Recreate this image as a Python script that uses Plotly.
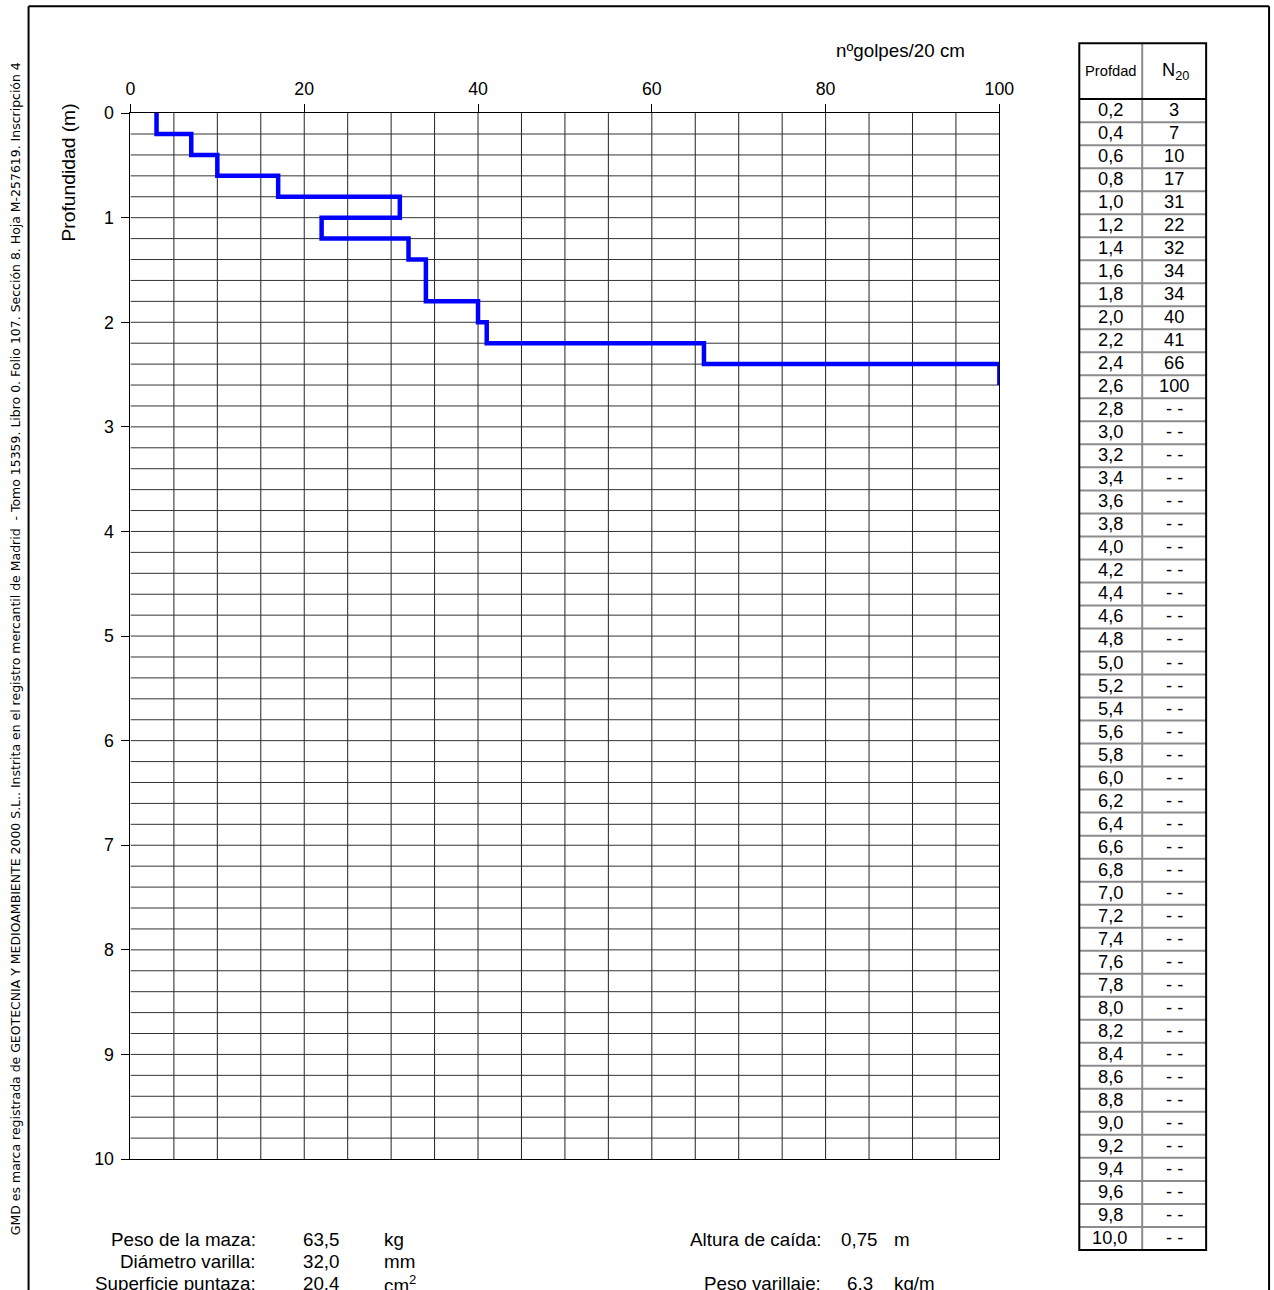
import plotly.graph_objects as go

# ---- data ----
depths = [0.2, 0.4, 0.6, 0.8, 1.0, 1.2, 1.4, 1.6, 1.8, 2.0, 2.2, 2.4, 2.6]
blows = [3, 7, 10, 17, 31, 22, 32, 34, 34, 40, 41, 66, 100]
table_depths = [round(0.2 * i, 1) for i in range(1, 51)]
x_ticks = [0, 20, 40, 60, 80, 100]
y_ticks = [0, 1, 2, 3, 4, 5, 6, 7, 8, 9, 10]

W, H = 1274, 1290
FONT = "Liberation Sans, Arial, sans-serif"

# the photographed page comes out slightly shrunk; compensate
S, AX, AY = 0.9855, 4.4, 8.8

def px(x):
    return ((x - AX) / S) / W

def py(y):
    return 1 - ((y - AY) / S) / H

def fs(size):
    return size / S

def note(x, y, text, size=17.5, xanchor="center", **kw):
    return dict(xref="paper", yref="paper", x=px(x), y=py(y), text=text,
                showarrow=False, xanchor=xanchor, yanchor="middle",
                borderpad=0, font=dict(size=fs(size), family=kw.pop("family", FONT)), **kw)

# step line built from data
xs, ys = [], []
for d, n in zip(depths, blows):
    xs += [n, n]
    ys += [round(d - 0.2, 1), d]

fig = go.Figure()
fig.add_trace(go.Scatter(x=xs, y=ys, mode="lines",
                         line=dict(color="#0000FF", width=4.5),
                         hoverinfo="skip", showlegend=False))

fig.update_layout(
    width=W, height=H,
    margin=dict(l=0, r=0, t=0, b=0),
    paper_bgcolor="white", plot_bgcolor="white",
    font=dict(family=FONT, size=17, color="black"),
    xaxis=dict(domain=[px(130), px(1000)], range=[0, 100], side="top",
               tickvals=x_ticks, ticks="outside", ticklen=8, tickcolor="black",
               ticklabelstandoff=2,
               showgrid=False, zeroline=False,
               showline=True, linecolor="black", linewidth=1, mirror=True,
               tickfont=dict(size=fs(17.5), family=FONT)),
    yaxis=dict(domain=[py(1159), py(112)], range=[10, 0],
               tickvals=y_ticks, ticks="outside", ticklen=8, tickcolor="black",
               ticklabelstandoff=4,
               showgrid=False, zeroline=False,
               showline=True, linecolor="black", linewidth=1, mirror=True,
               tickfont=dict(size=fs(17.5), family=FONT)),
)

shapes = []
# grid lines
for i in range(1, 20):
    v = i * 5
    shapes.append(dict(type="line", xref="x", yref="y", x0=v, x1=v, y0=0, y1=10,
                       line=dict(color="#222222", width=1), layer="below"))
for i in range(1, 50):
    v = i * 0.2
    shapes.append(dict(type="line", xref="x", yref="y", x0=0, x1=100, y0=v, y1=v,
                       line=dict(color="#333333", width=1), layer="below"))

# outer frame
shapes.append(dict(type="line", xref="paper", yref="paper", x0=px(28), x1=px(28), y0=py(5), y1=py(1310),
                   line=dict(color="black", width=2)))
shapes.append(dict(type="line", xref="paper", yref="paper", x0=px(28), x1=px(1270), y0=py(5), y1=py(5),
                   line=dict(color="black", width=2)))
shapes.append(dict(type="line", xref="paper", yref="paper", x0=px(1270), x1=px(1270), y0=py(5), y1=py(1310),
                   line=dict(color="black", width=2)))

# table
TL, TM, TR = 1080, 1143, 1207
TT, THB = 42, 98
RH = 23.04
TB = THB + RH * len(table_depths)
for i in range(1, len(table_depths)):
    yy = THB + RH * i
    shapes.append(dict(type="line", xref="paper", yref="paper", x0=px(TL), x1=px(TR), y0=py(yy), y1=py(yy),
                       line=dict(color="#8c8c8c", width=2)))
shapes.append(dict(type="line", xref="paper", yref="paper", x0=px(TM), x1=px(TM), y0=py(TT), y1=py(TB),
                   line=dict(color="#8c8c8c", width=2)))
shapes.append(dict(type="line", xref="paper", yref="paper", x0=px(TL), x1=px(TR), y0=py(THB), y1=py(THB),
                   line=dict(color="black", width=2)))
shapes.append(dict(type="rect", xref="paper", yref="paper", x0=px(TL), x1=px(TR), y0=py(TT), y1=py(TB),
                   line=dict(color="black", width=2)))

annotations = []
annotations.append(note((TL + TM) / 2, (TT + THB) / 2, "Profdad", size=14.5))
annotations.append(note((TM + TR) / 2 + 1, (TT + THB) / 2, "N<sub>20</sub>", size=18))
val_map = dict(zip(depths, blows))
for i, d in enumerate(table_depths):
    yc = THB + RH * i + RH / 2 - 1
    annotations.append(note(1111, yc, f"{d:.1f}".replace(".", ","), size=18))
    v = val_map.get(d)
    annotations.append(note(1175, yc, str(v) if v is not None else "- -", size=18))

# axis titles
annotations.append(note(901, 49, "nºgolpes/20 cm", size=18.5))
annotations.append(note(68, 172, "Profundidad (m)", size=19, textangle=-90))

# vertical side note
annotations.append(note(15, 648,
                        "GMD es marca registrada de GEOTECNIA Y MEDIOAMBIENTE 2000 S.L.. Instrita en el registro mercantil de Madrid  - Tomo 15359. Libro 0. Folio 107. Sección 8. Hoja M-257619. Inscripción 4",
                        size=12.3, textangle=-90, family="DejaVu Sans, Verdana, sans-serif"))

# bottom parameters
params_left = [("Peso de la maza:", "63,5", "kg", 1240),
               ("Diámetro varilla:", "32,0", "mm", 1262),
               ("Superficie puntaza:", "20,4", "cm<sup>2</sup>", 1284)]
for lab, val, unit, yy in params_left:
    annotations.append(note(257, yy, lab, size=18.5, xanchor="right"))
    annotations.append(note(302, yy, val, size=18.5, xanchor="left"))
    annotations.append(note(383, yy, unit, size=18.5, xanchor="left"))
params_right = [("Altura de caída:", "0,75", "m", 1240, 840),
                ("Peso varillaje:", "6,3", "kg/m", 1284, 846)]
for lab, val, unit, yy, vx in params_right:
    annotations.append(note(822, yy, lab, size=18.5, xanchor="right"))
    annotations.append(note(vx, yy, val, size=18.5, xanchor="left"))
    annotations.append(note(893, yy, unit, size=18.5, xanchor="left"))

fig.update_layout(shapes=shapes, annotations=annotations)
fig.write_html("out.html")
